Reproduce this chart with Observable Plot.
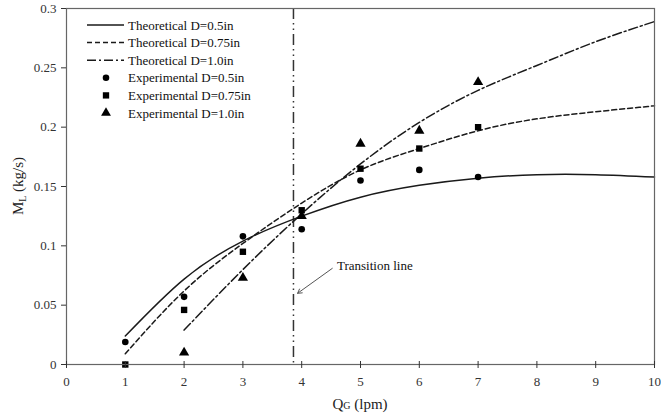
<!DOCTYPE html>
<html>
<head>
<meta charset="utf-8">
<script src="https://cdn.jsdelivr.net/npm/d3@7"></script>
<script src="https://cdn.jsdelivr.net/npm/@observablehq/plot@0.6"></script>
<style>
  html, body { margin: 0; padding: 0; background: #fff; }
  #chart { position: relative; width: 661px; height: 416px; }
</style>
</head>
<body>
<div id="chart"></div>
<script>
// ---- data ----
const qTheory = [1, 2, 3, 4, 5, 6, 7, 8, 9, 10];
const theory05 = [0.024, 0.072, 0.104, 0.125, 0.141, 0.151, 0.157, 0.160, 0.160, 0.158];
const theory075 = [0.009, 0.062, 0.102, 0.136, 0.164, 0.182, 0.197, 0.207, 0.213, 0.218];
const qTheory10 = [2, 3, 4, 5, 6, 7, 8, 9, 10];
const theory10 = [0.029, 0.080, 0.127, 0.169, 0.204, 0.231, 0.252, 0.272, 0.289];

const qExp = [1, 2, 3, 4, 5, 6, 7];
const exp05 = [0.019, 0.057, 0.108, 0.114, 0.155, 0.164, 0.158];
const exp075 = [0.000, 0.046, 0.095, 0.130, 0.165, 0.182, 0.200];
const qExp10 = [2, 3, 4, 5, 6, 7];
const exp10 = [0.010, 0.073, 0.125, 0.186, 0.197, 0.238];

const xTicks = [0, 1, 2, 3, 4, 5, 6, 7, 8, 9, 10];
const yTicks = [0, 0.05, 0.1, 0.15, 0.2, 0.25, 0.3];

const transitionQ = [3.86];
const annoArrow = [{x1: 4.52, y1: 0.081, x2: 3.93, y2: 0.060}];
const annoText = [{x: 4.6, y: 0.083, label: "Transition line"}];

const legendItems = [
  {label: "Theoretical D=0.5in", kind: "line", dash: null},
  {label: "Theoretical D=0.75in", kind: "line", dash: "5,3"},
  {label: "Theoretical D=1.0in", kind: "line", dash: "9,3,2,3"},
  {label: "Experimental D=0.5in", kind: "circle"},
  {label: "Experimental D=0.75in", kind: "square"},
  {label: "Experimental D=1.0in", kind: "triangle"}
];

// ---- build tables ----
const t05 = qTheory.map((q, i) => ({q, m: theory05[i]}));
const t075 = qTheory.map((q, i) => ({q, m: theory075[i]}));
const t10 = qTheory10.map((q, i) => ({q, m: theory10[i]}));
const e05 = qExp.map((q, i) => ({q, m: exp05[i]}));
const e075 = qExp.map((q, i) => ({q, m: exp075[i]}));
const e10 = qExp10.map((q, i) => ({q, m: exp10[i]}));

const ink = "#1a1a1a";
const font = "'Liberation Serif', 'Times New Roman', serif";

const plot = Plot.plot({
  width: 661,
  height: 416,
  marginTop: 8,
  marginRight: 7,
  marginBottom: 52,
  marginLeft: 66,
  style: {fontFamily: font, fontSize: "13px", color: "#333", background: "#fff"},
  x: {domain: [0, 10], label: null},
  y: {domain: [0, 0.3], label: null},
  marks: [
    Plot.ruleX(transitionQ, {x: d => d, stroke: "#333", strokeWidth: 1.5, strokeDasharray: "11,4,1.5,4,1.5,4"}),
    Plot.line(t05, {x: "q", y: "m", curve: "natural", stroke: ink, strokeWidth: 1.5}),
    Plot.line(t075, {x: "q", y: "m", curve: "natural", stroke: ink, strokeWidth: 1.5, strokeDasharray: "5,3"}),
    Plot.line(t10, {x: "q", y: "m", curve: "natural", stroke: ink, strokeWidth: 1.5, strokeDasharray: "9,3,2,3"}),
    Plot.dot(e10, {x: "q", y: "m", symbol: "triangle", r: 3.8, fill: "#000", stroke: "none"}),
    Plot.dot(e075, {x: "q", y: "m", symbol: "square", r: 3.6, fill: "#000", stroke: "none"}),
    Plot.dot(e05, {x: "q", y: "m", symbol: "circle", r: 3.3, fill: "#000", stroke: "none"}),
    Plot.arrow(annoArrow, {x1: "x1", y1: "y1", x2: "x2", y2: "y2", stroke: "#555", strokeWidth: 1, headLength: 7}),
    Plot.text(annoText, {x: "x", y: "y", text: "label", textAnchor: "start", fill: "#111", fontSize: 13}),
    Plot.frame({stroke: "#666", strokeWidth: 1.2}),
    Plot.ruleX(xTicks, {x: d => d, y1: 0, y2: 0, insetTop: 4, insetBottom: 3, stroke: "#333"}),
    Plot.axisX({ticks: xTicks, tickSize: 0, tickPadding: 12, tickFormat: d => String(d), fill: "#333"}),
    Plot.axisY({ticks: yTicks, tickSize: 5, tickPadding: 5, tickFormat: d => String(d), stroke: "#333", fill: "#333"})
  ]
});

document.getElementById("chart").appendChild(plot);

// ---- axis titles and legend (layout only) ----
const svg = d3.select(plot);
const xt = svg.append("text")
  .attr("x", 360).attr("y", 409)
  .attr("text-anchor", "middle")
  .style("font-family", font).style("font-size", "15px").attr("fill", "#222");
xt.append("tspan").text("Q");
xt.append("tspan").attr("font-size", "10px").text("G");
xt.append("tspan").text(" (lpm)");

const yt = svg.append("text")
  .attr("transform", "translate(23,186) rotate(-90)")
  .attr("text-anchor", "middle")
  .style("font-family", font).style("font-size", "15px").attr("fill", "#222");
yt.append("tspan").text("M");
yt.append("tspan").attr("font-size", "10px").attr("dy", 3).text("L");
yt.append("tspan").attr("dy", -3).text(" (kg/s)");

const lg = svg.append("g").style("font-family", font).style("font-size", "13px").attr("text-anchor", "start");
legendItems.forEach((d, i) => {
  const y = 25 + i * 17.6;
  if (d.kind === "line") {
    lg.append("line").attr("x1", 87).attr("x2", 124).attr("y1", y).attr("y2", y)
      .attr("stroke", ink).attr("stroke-width", 1.5)
      .attr("stroke-dasharray", d.dash);
  } else {
    const sym = d.kind === "circle" ? d3.symbolCircle : d.kind === "square" ? d3.symbolSquare : d3.symbolTriangle;
    const size = d.kind === "circle" ? 34 : d.kind === "square" ? 40 : 42;
    lg.append("path").attr("d", d3.symbol(sym, size)()).attr("transform", `translate(106,${y})`).attr("fill", "#000");
  }
  lg.append("text").attr("x", 128).attr("y", y).attr("dy", "0.35em")
    .attr("text-anchor", "start").attr("fill", "#111").text(d.label);
});
</script>
</body>
</html>
